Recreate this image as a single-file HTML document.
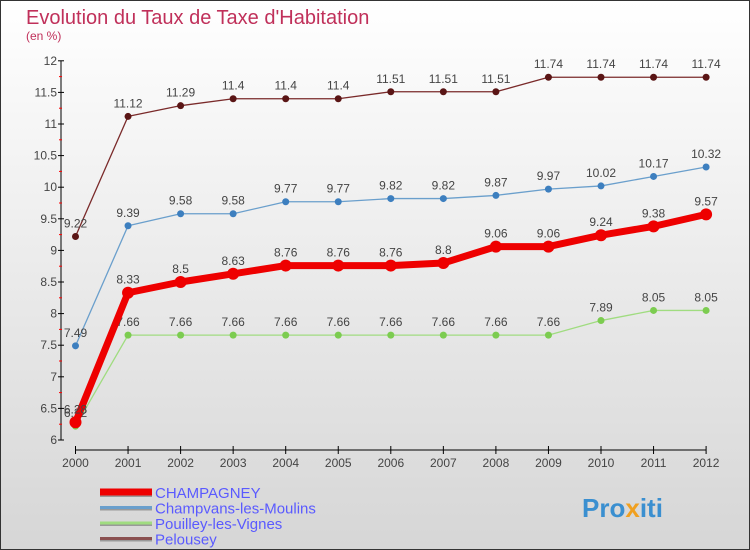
<!DOCTYPE html>
<html><head><meta charset="utf-8"><style>
body{margin:0}
#c{width:750px;height:550px;position:relative;overflow:hidden}
text{font-family:"Liberation Sans",sans-serif}
</style></head><body>
<div id="c">
<svg id="s" width="750" height="550" xmlns="http://www.w3.org/2000/svg">
<defs><linearGradient id="bg" x1="0" y1="0" x2="0" y2="1"><stop offset="0" stop-color="#ffffff"/><stop offset="1" stop-color="#d6d6d6"/></linearGradient></defs>
<rect x="0.5" y="0.5" width="749" height="549" fill="url(#bg)" stroke="#333"/>
<text x="26" y="24" font-size="20" fill="#c0305a">Evolution du Taux de Taxe d'Habitation</text>
<text x="26" y="40" font-size="12" fill="#c0305a">(en %)</text>
<g id="axes"></g><g id="series"></g><g id="legend"></g>
<text x="582" y="517" font-size="26" font-weight="bold" fill="#3a8fd0">Pro<tspan fill="#f0a020">x</tspan>iti</text>
</svg></div>
<script>
const years=[2000,2001,2002,2003,2004,2005,2006,2007,2008,2009,2010,2011,2012];
const yTicks=[6,6.5,7,7.5,8,8.5,9,9.5,10,10.5,11,11.5,12];
const yTickLabels=["6","6.5","7","7.5","8","8.5","9","9.5","10","10.5","11","11.5","12"];
const champagney=[6.28,8.33,8.5,8.63,8.76,8.76,8.76,8.8,9.06,9.06,9.24,9.38,9.57];
const champvans=[7.49,9.39,9.58,9.58,9.77,9.77,9.82,9.82,9.87,9.97,10.02,10.17,10.32];
const pouilley=[6.22,7.66,7.66,7.66,7.66,7.66,7.66,7.66,7.66,7.66,7.89,8.05,8.05];
const pelousey=[9.22,11.12,11.29,11.4,11.4,11.4,11.51,11.51,11.51,11.74,11.74,11.74,11.74];
const NS="http://www.w3.org/2000/svg";
function X(i){return 75.5+i*52.55;}
function Y(v){return 440-(v-6)*63.2;}
function mk(t,a,p){const e=document.createElementNS(NS,t);for(const k in a)e.setAttribute(k,a[k]);p.appendChild(e);return e;}
const ax=document.getElementById('axes');
let yl=mk('line',{x1:61,y1:Y(12),x2:61,y2:Y(6),stroke:'#000'},ax);


yTicks.forEach((v,i)=>{
 mk('line',{x1:58,y1:Y(v),x2:64,y2:Y(v),stroke:'#000'},ax);
 if(i<yTicks.length-1)mk('line',{x1:59,y1:Y(v+0.25),x2:62,y2:Y(v+0.25),stroke:'#f00'},ax);
 const t=mk('text',{x:57,y:Y(v)+4,'font-size':12,fill:'#444','text-anchor':'end'},ax);
 t.textContent=yTickLabels[i];
 
 
});
let xl=mk('line',{x1:X(0),y1:450,x2:X(12),y2:450,stroke:'#000'},ax);


years.forEach((y,i)=>{
 mk('line',{x1:X(i),y1:446,x2:X(i),y2:454,stroke:'#000'},ax);
 const t=mk('text',{x:X(i),y:467,'font-size':12,fill:'#444','text-anchor':'middle'},ax);
 t.textContent=y;
 
 
});
const sg=document.getElementById('series');
function series(vals,color,dot,w,r,name){
 const g=mk('g',{},sg);
 
 
 mk('polyline',{points:vals.map((v,i)=>X(i)+','+Y(v)).join(' '),fill:'none',stroke:color,'stroke-width':w,'stroke-linejoin':'round'},g);
 vals.forEach((v,i)=>{
  const c=mk('circle',{cx:X(i),cy:Y(v),r:r,fill:dot},g);
  
  
  const t=mk('text',{x:X(i),y:Y(v)-9,'font-size':12,fill:'#444','text-anchor':'middle'},g);
  t.textContent=v;
  
  
 });
}
series(pelousey,'#7a2a2a','#5a1515',1.3,3.5,'pelousey');
series(champvans,'#6a9fcc','#3d7fbf',1.3,3.5,'champvans');
series(pouilley,'#a0dc80','#7ccc50',1.3,3.5,'pouilley');
series(champagney,'#ee0000','#ee0000',7,6,'champagney');
const lg=document.getElementById('legend');
const names=["CHAMPAGNEY","Champvans-les-Moulins","Pouilley-les-Vignes","Pelousey"];
const colors=['#ee0000','#6a9fcc','#a0dc80','#8a5050'];
const widths=[7,3,3,3];
names.forEach((n,i)=>{
 const y=492+i*15.5;
 const g=mk('g',{},lg);
 
 
 mk('line',{x1:100,y1:y+1.5,x2:152,y2:y+1.5,stroke:'#999','stroke-width':widths[i]},g);
 mk('line',{x1:100,y1:y,x2:152,y2:y,stroke:colors[i],'stroke-width':widths[i]},g);
 const t=mk('text',{x:155,y:y+6,'font-size':15,fill:'#5a5aff'},g);
 t.textContent=n;
});
</script>
</body></html>
